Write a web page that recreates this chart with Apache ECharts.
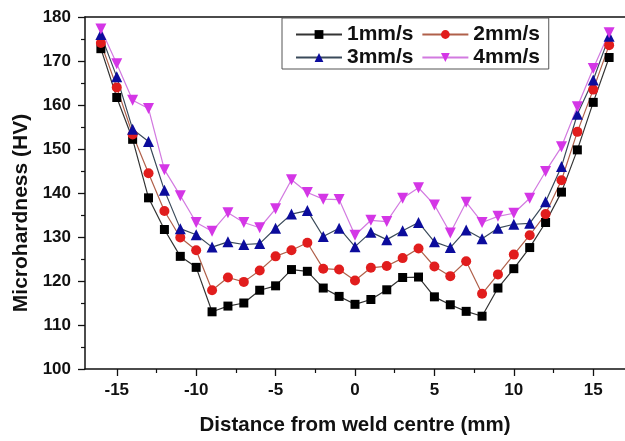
<!DOCTYPE html>
<html>
<head>
<meta charset="utf-8">
<script src="https://cdn.jsdelivr.net/npm/echarts@6/dist/echarts.min.js"></script>
<style>
    html, body {margin: 0; padding: 0; background: #fff;}
    #chart {width: 625px; height: 441px;}
</style>
</head>
<body>
<div id="chart"></div>
<script>
// distance from weld centre (mm)
const distance = [-16, -15, -14, -13, -12, -11, -10, -9, -8, -7, -6, -5, -4, -3, -2, -1, 0,
    1, 2, 3, 4, 5, 6, 7, 8, 9, 10, 11, 12, 13, 14, 15, 16];

// microhardness (HV) for each welding speed
const speed1 = [172.8, 161.7, 152.2, 138.9, 131.7, 125.6, 123.1, 113.0, 114.3, 115.0, 117.9, 118.9, 122.6, 122.2, 118.4, 116.5, 114.7,
    115.8, 118.0, 120.8, 120.9, 116.4, 114.6, 113.1, 112.0, 118.4, 122.8, 127.6, 133.3, 140.2, 149.8, 160.6, 170.8];
const speed2 = [174.1, 164.0, 153.3, 144.5, 135.9, 129.9, 127.0, 117.9, 120.8, 119.8, 122.4, 125.6, 127.0, 128.7, 122.8, 122.6, 120.1,
    123.0, 123.4, 125.2, 127.4, 123.3, 121.1, 124.5, 117.1, 121.5, 126.0, 130.4, 135.2, 142.9, 153.9, 163.5, 173.6];
const speed3 = [176.0, 166.4, 154.5, 151.7, 140.6, 131.9, 130.5, 127.7, 128.9, 128.3, 128.5, 132.0, 135.2, 136.0, 130.1, 132.0, 127.8,
    131.1, 129.4, 131.4, 133.3, 128.9, 127.6, 131.6, 129.6, 132.0, 132.9, 133.1, 138.0, 146.0, 157.9, 165.7, 175.6];
const speed4 = [177.3, 169.4, 161.1, 159.2, 145.3, 139.4, 133.3, 131.3, 135.5, 133.3, 132.1, 136.4, 143.0, 140.1, 138.6, 138.5, 130.4,
    133.8, 133.5, 138.8, 141.2, 137.3, 130.9, 137.9, 133.3, 134.7, 135.4, 138.8, 144.9, 150.5, 159.6, 168.3, 176.4];

const seriesNames = ['1mm/s', '2mm/s', '3mm/s', '4mm/s'];
const xMajorTicks = [-15, -10, -5, 0, 5, 10, 15];
const xMinorTicks = [-12.5, -7.5, -2.5, 2.5, 7.5, 12.5];

const fontFamily = '"Liberation Sans", Arial, sans-serif';

const pairs = values => distance.map((d, i) => [d, values[i]]);

const makeSeries = (name, values, markColor, lineColor, symbol, size, rotate) => ({
    name,
    type: 'line',
    xAxisIndex: 0,
    data: pairs(values),
    symbol,
    symbolSize: size,
    symbolRotate: rotate || 0,
    itemStyle: {color: markColor, borderWidth: 0},
    lineStyle: {color: lineColor, width: 1.2},
    emphasis: {disabled: true},
    animation: false,
});

const chart = echarts.init(document.getElementById('chart'));

const option = {
    backgroundColor: '#fff',
    animation: false,
    grid: {
        left: 85,
        top: 17,
        bottom: 63,
        right: -6,
    },
    // y axis title, placed a little below the middle of the axis as in the source figure
    graphic: [{
        type: 'text',
        x: 21,
        y: 213,
        rotation: Math.PI / 2,
        style: {
            text: 'Microhardness (HV)',
            font: 'bold 21px ' + fontFamily,
            fill: '#111',
            align: 'center',
            verticalAlign: 'middle',
        },
    }],
    legend: {
        data: seriesNames,
        left: 282,
        top: 18,
        width: 252,
        padding: [6, 3, 1, 13],
        itemWidth: 46,
        itemHeight: 11,
        itemGap: 2,
        borderColor: '#555',
        borderWidth: 1,
        // trailing space widens each entry like the source legend
        formatter: name => name + ' ',
        textStyle: {fontFamily, fontSize: 21, fontWeight: 'bold', color: '#111'},
    },
    xAxis: [
        {
            type: 'value',
            position: 'bottom',
            min: -17,
            max: 17,
            name: 'Distance from weld centre (mm)',
            nameLocation: 'middle',
            nameGap: 46,
            nameTextStyle: {fontFamily, fontSize: 20.5, fontWeight: 'bold', color: '#111'},
            axisLine: {onZero: false, lineStyle: {color: '#111', width: 1.5}},
            axisTick: {show: true, customValues: xMajorTicks, length: 7, lineStyle: {color: '#111', width: 1.3}},
            axisLabel: {customValues: xMajorTicks, margin: 13, fontFamily, fontSize: 17, fontWeight: 'bold', color: '#111'},
            splitLine: {show: false},
        },
        {
            type: 'value',
            position: 'bottom',
            min: -17,
            max: 17,
            axisLine: {show: false},
            axisTick: {show: true, customValues: xMinorTicks, length: 4, lineStyle: {color: '#111', width: 1.2}},
            axisLabel: {show: false},
            splitLine: {show: false},
        },
        {
            type: 'value',
            position: 'top',
            min: -17,
            max: 17,
            axisLine: {onZero: false, lineStyle: {color: '#111', width: 1.5}},
            axisTick: {show: false},
            axisLabel: {show: false},
            splitLine: {show: false},
        },
    ],
    yAxis: {
        type: 'value',
        min: 100,
        max: 180,
        interval: 10,
        axisLine: {show: true, onZero: false, lineStyle: {color: '#111', width: 1.5}},
        axisTick: {show: true, length: 7, lineStyle: {color: '#111', width: 1.3}},
        minorTick: {show: true, splitNumber: 2, length: 4, lineStyle: {color: '#111', width: 1.2}},
        axisLabel: {margin: 14, fontFamily, fontSize: 17, fontWeight: 'bold', color: '#111'},
        splitLine: {show: false},
    },
    series: [
        makeSeries(seriesNames[0], speed1, '#000000', '#333333', 'rect', 9),
        makeSeries(seriesNames[1], speed2, '#e11d1d', '#b0604a', 'circle', 10),
        makeSeries(seriesNames[2], speed3, '#0c0c9c', '#3a4a5a', 'triangle', 11),
        makeSeries(seriesNames[3], speed4, '#d436e6', '#d27ae0', 'triangle', 11, 180),
    ],
};

chart.setOption(option);
</script>
</body>
</html>
